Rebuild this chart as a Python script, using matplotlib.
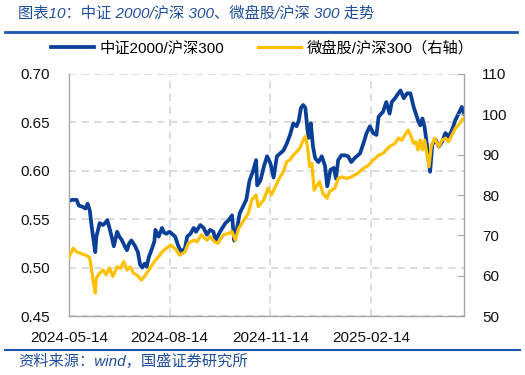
import matplotlib
matplotlib.use("Agg")
import matplotlib.pyplot as plt
import pandas as pd

plt.rcParams['font.family'] = ['Liberation Sans', 'Noto Sans CJK SC', 'DejaVu Sans']

start_date = "2024-05-14"

# 中证2000/沪深300 (left axis): days since start, ratio
csi2000_days = [0, 3, 7, 9, 12, 15, 17, 19, 21, 24, 25, 27, 28, 31, 33, 35, 37, 39, 41, 44,
                46, 48, 51, 53, 55, 57, 60, 63, 65, 67, 69, 71, 73, 76, 78, 79, 82, 85, 87, 89,
                92, 97, 100, 103, 106, 108, 111, 114, 116, 120, 123, 126, 129, 132, 134, 138, 143,
                146, 149, 151, 153, 156, 159, 162, 165, 168, 171, 172, 175, 178, 181, 184, 187, 190,
                193, 196, 199, 202, 205, 208, 210, 212, 214, 216, 218, 219, 221, 223, 225, 228, 231,
                234, 236, 239, 242, 244, 246, 249, 252, 255, 258, 261, 266, 269, 272, 275, 278, 281,
                283, 287, 290, 293, 295, 298, 301, 303, 306, 309, 312, 315, 317, 319, 321, 323, 325,
                327, 330, 332, 335, 338, 341, 344, 347, 350, 353, 356, 359, 361]
csi2000_ratio = [0.569, 0.570, 0.570, 0.564, 0.563, 0.561, 0.566, 0.559, 0.540, 0.516, 0.532, 0.541,
                 0.546, 0.544, 0.546, 0.549, 0.541, 0.532, 0.522, 0.537, 0.532, 0.529, 0.522, 0.518,
                 0.525, 0.528, 0.523, 0.516, 0.503, 0.500, 0.504, 0.501, 0.511, 0.520, 0.527, 0.539,
                 0.532, 0.541, 0.536, 0.535, 0.537, 0.532, 0.522, 0.516, 0.520, 0.532, 0.535, 0.541,
                 0.537, 0.544, 0.541, 0.534, 0.539, 0.537, 0.528, 0.537, 0.546, 0.549, 0.554, 0.528,
                 0.537, 0.556, 0.563, 0.570, 0.590, 0.599, 0.611, 0.585, 0.590, 0.604, 0.615, 0.608,
                 0.593, 0.615, 0.618, 0.621, 0.628, 0.637, 0.649, 0.646, 0.652, 0.665, 0.668, 0.665,
                 0.642, 0.634, 0.649, 0.625, 0.613, 0.609, 0.615, 0.605, 0.584, 0.601, 0.603, 0.592,
                 0.611, 0.616, 0.616, 0.615, 0.609, 0.613, 0.618, 0.628, 0.639, 0.646, 0.639, 0.637,
                 0.656, 0.661, 0.671, 0.659, 0.671, 0.675, 0.680, 0.683, 0.675, 0.680, 0.680, 0.666,
                 0.659, 0.652, 0.647, 0.654, 0.645, 0.628, 0.599, 0.627, 0.632, 0.625, 0.630, 0.639,
                 0.635, 0.642, 0.652, 0.659, 0.666, 0.659]

# 微盘股/沪深300 (right axis): days since start, index
micro_days = [0, 4, 7, 10, 15, 18, 19, 22, 24, 25, 28, 31, 34, 37, 40, 44, 47, 50, 53, 56, 59,
              62, 66, 69, 74, 79, 82, 85, 89, 93, 98, 101, 106, 109, 114, 117, 121, 126, 129, 133,
              136, 141, 146, 149, 152, 155, 159, 164, 167, 171, 173, 178, 182, 185, 190, 193, 196,
              199, 202, 205, 208, 211, 214, 216, 218, 220, 222, 224, 226, 229, 232, 236, 238, 240,
              243, 246, 249, 254, 258, 264, 269, 274, 278, 280, 283, 287, 290, 293, 298, 301, 304,
              307, 310, 312, 315, 317, 319, 321, 323, 325, 327, 329, 331, 334, 338, 341, 344, 347,
              350, 353, 356, 359, 361]
micro_ratio = [64.7, 66.8, 65.9, 65.6, 65.1, 64.7, 64.3, 58.9, 55.7, 59.4, 60.6, 61.4, 60.2, 61.9,
               59.8, 62.2, 61.8, 63.5, 61.4, 62.2, 60.6, 60.2, 58.9, 59.8, 61.8, 63.9, 64.7, 65.9,
               66.8, 67.6, 66.4, 65.1, 65.9, 68.0, 68.8, 68.4, 70.1, 68.8, 69.7, 68.4, 68.0, 70.1,
               70.5, 70.9, 68.8, 71.7, 73.4, 75.5, 78.8, 80.0, 77.1, 78.8, 81.7, 80.0, 82.9, 84.5,
               85.8, 88.3, 88.7, 89.9, 90.7, 91.6, 93.6, 94.5, 92.0, 87.0, 87.8, 81.2, 82.1, 83.3,
               80.4, 79.2, 80.8, 81.2, 81.7, 84.1, 84.5, 84.1, 84.5, 85.4, 86.6, 87.4, 88.7, 89.1,
               89.9, 90.3, 91.2, 92.0, 92.8, 94.1, 93.6, 94.9, 96.1, 94.9, 92.8, 93.2, 91.2, 93.6,
               91.2, 93.6, 90.3, 87.0, 92.0, 94.1, 92.0, 93.6, 94.1, 93.2, 94.9, 96.5, 97.4, 98.6,
               99.0]

x_tick_labels = ["2024-05-14", "2024-08-14", "2024-11-14", "2025-02-14"]
left_ticks = [0.45, 0.50, 0.55, 0.60, 0.65, 0.70]
right_ticks = [50, 60, 70, 80, 90, 100, 110]

title = "图表10：中证 2000/沪深 300、微盘股/沪深 300 走势"
source = "资料来源：wind，国盛证券研究所"
label_blue = "中证2000/沪深300"
label_yellow = "微盘股/沪深300（右轴）"

BLUE = "#0A3F98"
YELLOW = "#FFC000"
TXT_BLUE = "#1F4E9A"
GRID = "#D9D9D9"
SPINE = "#A6A6A6"

t0 = pd.Timestamp(start_date)
d_blue = t0 + pd.to_timedelta(csi2000_days, unit="D")
d_yel = t0 + pd.to_timedelta(micro_days, unit="D")
end_date = t0 + pd.Timedelta(days=361)

fig = plt.figure(figsize=(5.25, 3.75), dpi=100)
ax = fig.add_axes([0.1314, 0.1573, 0.7524, 0.6454])
ax2 = ax.twinx()

l1, = ax.plot(d_blue, csi2000_ratio, color=BLUE, lw=2.7, solid_joinstyle="round")
l2, = ax2.plot(d_yel, micro_ratio, color=YELLOW, lw=2.3, solid_joinstyle="round")

ax.set_xlim(t0, end_date)
ax.set_ylim(0.45, 0.70)
ax2.set_ylim(50, 110)
ax.set_yticks(left_ticks)
ax.set_yticklabels([f"{v:.2f}" for v in left_ticks])
ax2.set_yticks(right_ticks)
ax2.set_yticklabels([str(v) for v in right_ticks])
xt = [pd.Timestamp(s) for s in x_tick_labels]
ax.set_xticks(xt)
ax.set_xticklabels(x_tick_labels)

ax.grid(True, color=GRID, lw=1.3, ls=(0, (4, 3)))
ax.set_axisbelow(True)

for a in (ax, ax2):
    a.spines["top"].set_visible(False)
    for s in ("left", "right", "bottom"):
        a.spines[s].set_color(SPINE)
        a.spines[s].set_linewidth(1.0)
ax.spines["right"].set_visible(False)
ax2.spines["left"].set_visible(False)
ax2.spines["bottom"].set_visible(False)

ax.tick_params(axis="y", length=0, pad=14, labelsize=11, labelcolor="#111111")
ax.tick_params(axis="x", length=0, pad=11, labelsize=11, labelcolor="#111111")
ax2.tick_params(axis="y", direction="in", length=5, color=SPINE, pad=13, labelsize=11,
                labelcolor="#111111")

fig.legend([l1, l2], [label_blue, label_yellow], loc="center", bbox_to_anchor=(0.5, 0.872),
           ncol=2, frameon=False, fontsize=11, handlelength=2.8, handletextpad=0.4,
           columnspacing=2.2)

fig.text(0.034, 0.965, title, fontsize=11, color=TXT_BLUE, style="italic",
         ha="left", va="center")
fig.add_artist(plt.Line2D([0.01, 0.985], [0.914, 0.914], color="#1F56B0", lw=2.0,
                          transform=fig.transFigure))
fig.add_artist(plt.Line2D([0.01, 0.99], [0.067, 0.067], color="#1F56B0", lw=1.5,
                          transform=fig.transFigure))
fig.text(0.034, 0.035, source, fontsize=11, color=TXT_BLUE, style="italic",
         ha="left", va="center")

fig.savefig("out.png", dpi=100)
